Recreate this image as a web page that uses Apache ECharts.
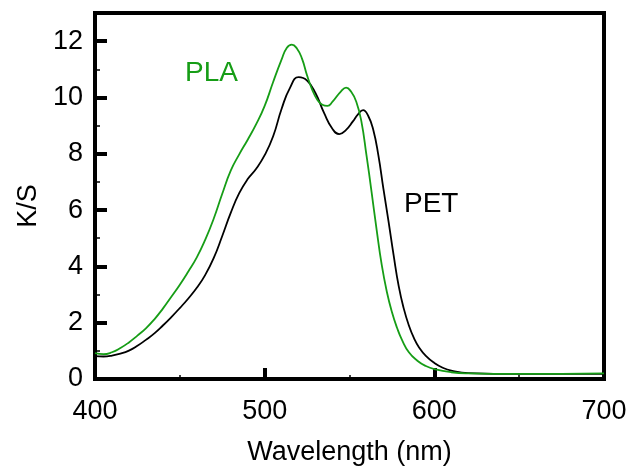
<!DOCTYPE html>
<html>
<head>
<meta charset="utf-8">
<script src="https://cdn.jsdelivr.net/npm/echarts@6/dist/echarts.min.js"></script>
<style>
html,body{margin:0;padding:0;background:#fff;}
#chart{width:632px;height:471px;}
</style>
</head>
<body>
<div id="chart"></div>
<script>
// PLA (green) curve: wavelength (nm) and K/S values
var plaWavelength = [400, 405, 410, 415, 420, 425, 430, 435, 440, 445, 450, 455, 460, 465, 470, 475, 480, 485, 490, 495, 500, 505, 510, 513, 516, 519, 522, 525, 528, 531, 534, 537, 540, 545, 548, 551, 554, 557, 560, 563, 566, 569, 572, 575, 578, 581, 585, 590, 595, 600, 610, 620, 650, 700];
var plaKS = [0.92, 0.88, 0.95, 1.10, 1.30, 1.54, 1.80, 2.12, 2.50, 2.92, 3.35, 3.82, 4.32, 4.95, 5.70, 6.58, 7.40, 7.98, 8.50, 9.05, 9.70, 10.55, 11.35, 11.76, 11.88, 11.74, 11.38, 10.78, 10.28, 9.92, 9.74, 9.70, 9.85, 10.22, 10.35, 10.20, 9.85, 9.15, 7.95, 6.65, 5.30, 4.05, 3.10, 2.38, 1.82, 1.38, 0.95, 0.65, 0.46, 0.35, 0.24, 0.20, 0.18, 0.20];

// PET (black) curve
var petWavelength = [400, 405, 410, 415, 420, 425, 430, 435, 440, 445, 450, 455, 460, 465, 470, 475, 480, 485, 490, 495, 500, 505, 510, 515, 520, 525, 530, 535, 540, 544, 548, 552, 555, 558, 561, 564, 567, 570, 573, 576, 579, 582, 585, 588, 591, 595, 600, 605, 610, 620, 650, 700];
var petKS = [0.81, 0.80, 0.83, 0.90, 1.01, 1.18, 1.39, 1.62, 1.90, 2.20, 2.52, 2.86, 3.24, 3.70, 4.30, 5.08, 5.90, 6.60, 7.10, 7.47, 7.95, 8.62, 9.60, 10.35, 10.72, 10.60, 10.15, 9.45, 8.88, 8.70, 8.85, 9.15, 9.40, 9.55, 9.35, 8.85, 7.95, 6.75, 5.60, 4.40, 3.30, 2.50, 1.90, 1.45, 1.12, 0.82, 0.57, 0.40, 0.30, 0.21, 0.18, 0.18];

var seriesNames = ['PLA', 'PET'];
var xTitle = 'Wavelength (nm)';
var yTitle = 'K/S';

function pairs(xs, ys) { return xs.map(function (x, i) { return [x, ys[i]]; }); }

var FONT = 'Liberation Sans, Arial, sans-serif';
var GREEN = '#169d16';

var chart = echarts.init(document.getElementById('chart'), null, {renderer: 'canvas'});
chart.setOption({
  backgroundColor: '#ffffff',
  animation: false,
  grid: {left: 95, top: 13, right: 28, bottom: 88, show: true, borderColor: '#000', borderWidth: 4, backgroundColor: 'transparent'},
  xAxis: {
    type: 'value', min: 400, max: 700, interval: 100,
    name: xTitle, nameLocation: 'middle', nameGap: 60,
    nameTextStyle: {fontFamily: FONT, fontSize: 27, color: '#000'},
    axisLine: {show: true, onZero: false, lineStyle: {color: '#000', width: 4}},
    axisTick: {show: true, inside: true, length: 11, lineStyle: {color: '#000', width: 4}},
    minorTick: {show: true, splitNumber: 2, length: 4, lineStyle: {color: '#000', width: 1.5}},
    axisLabel: {fontFamily: FONT, fontSize: 27, color: '#000', margin: 19},
    splitLine: {show: false}
  },
  yAxis: {
    type: 'value', min: 0, max: 13, interval: 2,
    name: yTitle, nameLocation: 'middle', nameGap: 52, nameRotate: 90,
    nameTextStyle: {fontFamily: FONT, fontSize: 27, color: '#000', padding: [0, 20, 0, 0]},
    axisLine: {show: true, onZero: false, lineStyle: {color: '#000', width: 4}},
    axisTick: {show: true, inside: true, length: 12, lineStyle: {color: '#000', width: 4}},
    minorTick: {show: true, splitNumber: 2, length: 5, lineStyle: {color: '#000', width: 1.5}},
    axisLabel: {fontFamily: FONT, fontSize: 27, color: '#000', margin: 12, showMaxLabel: false},
    splitLine: {show: false}
  },
  series: [
    {
      name: seriesNames[0], type: 'line', data: pairs(plaWavelength, plaKS),
      smooth: 0.5, showSymbol: false, symbol: 'none', clip: true,
      lineStyle: {color: GREEN, width: 1.8}, z: 3
    },
    {
      name: seriesNames[1], type: 'line', data: pairs(petWavelength, petKS),
      smooth: 0.5, showSymbol: false, symbol: 'none', clip: true,
      lineStyle: {color: '#000', width: 1.8}, z: 2
    }
  ],
  graphic: [
    {type: 'text', left: 185, top: 59, style: {text: seriesNames[0], fontFamily: FONT, fontSize: 28, fill: GREEN}},
    {type: 'text', left: 404, top: 190, style: {text: seriesNames[1], fontFamily: FONT, fontSize: 28, fill: '#000'}}
  ]
});
</script>
</body>
</html>
